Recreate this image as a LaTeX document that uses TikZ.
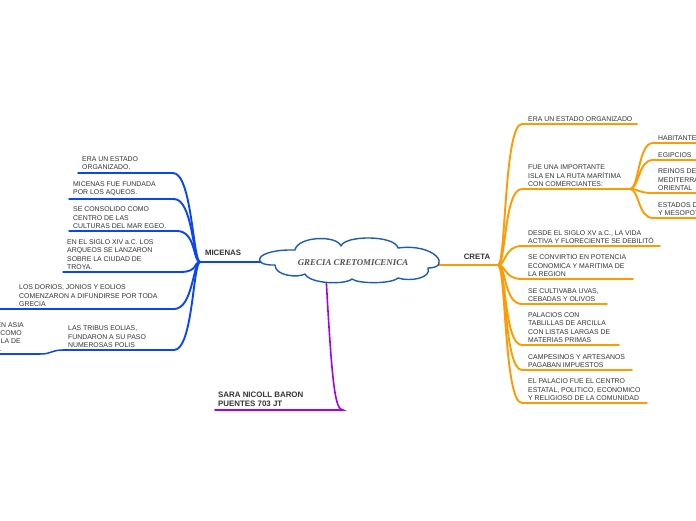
\documentclass[tikz,border=0pt]{standalone}
\usepackage{fontspec}
\setmainfont{Liberation Sans}
\newfontfamily\cloudfont{Liberation Serif}
\definecolor{mblue}{HTML}{0A46F5}
\definecolor{morange}{HTML}{FF9A00}
\definecolor{mpurple}{HTML}{A100F2}
\definecolor{cblue}{HTML}{1C5DAE}
\definecolor{txt}{HTML}{333333}
\tikzset{
  leaf/.style={anchor=south west,inner sep=0pt,align=left,text=txt,font=\fontsize{6.9}{8.2}\selectfont},
  leafe/.style={anchor=south east,inner sep=0pt,align=left,text=txt,font=\fontsize{6.9}{8.2}\selectfont},
  lbl/.style={inner sep=0pt,text=txt,font=\fontsize{7.8}{9}\selectfont\bfseries},
  bline/.style={draw=mblue,line width=1.5pt,line cap=round},
  bconn/.style={draw=mblue,line width=1.9pt,line cap=round},
  oline/.style={draw=morange,line width=1.5pt,line cap=round},
  oconn/.style={draw=morange,line width=1.9pt,line cap=round},
  cloudline/.style={draw=cblue,line width=1.4pt,fill=white,line join=round},
}
\begin{document}
\begin{tikzpicture}[x=1pt,y=-1pt]
\useasboundingbox (0,0) rectangle (696,520);
\clip (0,0) rectangle (696,520);
% ---------- MICENAS ----------
\coordinate (mh) at (200,262);
\coordinate (cl) at (266,262);
\draw[bconn] (cl) -- (mh);
\node[lbl] (mic) at (223,253) {MICENAS};

\coordinate (m1a) at (78,173);  \coordinate (m1b) at (173,173);
\coordinate (m2a) at (69,199);  \coordinate (m2b) at (174,199);
\coordinate (m3a) at (69,231);  \coordinate (m3b) at (177,231);
\coordinate (m4a) at (63,272);  \coordinate (m4b) at (180,272);
\coordinate (m5a) at (0,309);   \coordinate (m5b) at (174,309);
\coordinate (m6a) at (63,350);  \coordinate (m6b) at (174,350);
\coordinate (m7a) at (-5,354);  \coordinate (m7b) at (40,354);

\foreach \i in {1,...,6}{
  \draw[bline] (m\i a) -- (m\i b);
  \draw[bconn] (m\i b) .. controls +(19,0) and +(-7,0) .. (mh);
}
\draw[bline] (m7a) -- (m7b);
\draw[bline] (m7b) .. controls +(12,0) and +(-12,0) .. (m6a);

\node[leaf] (t1) at (82,170) {ERA UN ESTADO\\ORGANIZADO.};
\node[leaf] (t2) at (73,196) {MICENAS FUE FUNDADA\\POR LOS AQUEOS.};
\node[leaf] (t3) at (73,228.5) {SE CONSOLIDO COMO\\CENTRO DE LAS\\CULTURAS DEL MAR EGEO.};
\node[leaf] (t4) at (67,269.5) {EN EL SIGLO XIV a.C. LOS\\ARQUEOS SE LANZARON\\SOBRE LA CIUDAD DE\\TROYA.};
\node[leaf] (t5) at (19,306.5) {LOS DORIOS, JONIOS Y EOLIOS\\COMENZARON A DIFUNDIRSE POR TODA\\GRECIA};
\node[leaf] (t6) at (68,347.5) {LAS TRIBUS EOLIAS,\\FUNDARON A SU PASO\\NUMEROSAS POLIS};
\node[leafe] (t7a) at (24,328) {EN ASIA};
\node[leafe] (t7b) at (22,336) {COMO};
\node[leafe] (t7c) at (21,344) {LA DE};
\node[leafe] (t7d) at (2,352) {.};
% ---------- CRETA ----------
\coordinate (ch) at (498,265);
\coordinate (cr) at (430,265);
\draw[oconn] (cr) -- (ch);
\node[lbl] (cre) at (477,257) {CRETA};

\coordinate (r1a) at (522,124); \coordinate (r1b) at (637,124);
\coordinate (r2a) at (522,189); \coordinate (r2b) at (630,189);
\coordinate (r3a) at (522,246); \coordinate (r3b) at (660,246);
\coordinate (r4a) at (522,279); \coordinate (r4b) at (633,279);
\coordinate (r5a) at (522,304); \coordinate (r5b) at (607,304);
\coordinate (r6a) at (522,345); \coordinate (r6b) at (619,345);
\coordinate (r7a) at (522,370); \coordinate (r7b) at (632,370);
\coordinate (r8a) at (522,403); \coordinate (r8b) at (647,403);
\foreach \i in {1,...,8}{
  \draw[oline] (r\i a) -- (r\i b);
  \draw[oconn] (ch) .. controls +(8,0) and +(-18,0) .. (r\i a);
}
\node[leaf] (u1) at (528,121.5) {ERA UN ESTADO ORGANIZADO};
\node[leaf] (u2) at (528,186.5) {FUE UNA IMPORTANTE\\ISLA EN LA RUTA MARÍTIMA\\CON COMERCIANTES:};
\node[leaf] (u3) at (528,243.5) {DESDE EL SIGLO XV a.C., LA VIDA\\ACTIVA Y FLORECIENTE SE DEBILITÓ};
\node[leaf] (u4) at (528,276.5) {SE CONVIRTIO EN POTENCIA\\ECONOMICA Y MARITIMA DE\\LA REGION};
\node[leaf] (u5) at (528,301.5) {SE CULTIVABA UVAS,\\CEBADAS Y OLIVOS};
\node[leaf] (u6) at (528,342.5) {PALACIOS CON\\TABLILLAS DE ARCILLA\\CON LISTAS LARGAS DE\\MATERIAS PRIMAS};
\node[leaf] (u7) at (528,367.5) {CAMPESINOS Y ARTESANOS\\PAGABAN IMPUESTOS};
\node[leaf] (u8) at (528,400.5) {EL PALACIO FUE EL CENTRO\\ESTATAL, POLITICO, ECONOMICO\\Y RELIGIOSO DE LA COMUNIDAD};
% sub-branches
\coordinate (s1a) at (653,143); \coordinate (s1b) at (700,143);
\coordinate (s2a) at (653,160); \coordinate (s2b) at (700,160);
\coordinate (s3a) at (653,193); \coordinate (s3b) at (700,193);
\coordinate (s4a) at (653,218); \coordinate (s4b) at (700,218);
\foreach \i in {1,...,4}{
  \draw[oline] (s\i a) -- (s\i b);
  \draw[oconn] (r2b) .. controls +(9,0) and +(-15,0) .. (s\i a);
}
\node[leaf] (v1) at (658,140.5) {HABITANTES};
\node[leaf] (v2) at (658,157.5) {EGIPCIOS};
\node[leaf] (v3) at (658,190.5) {REINOS DEL\\MEDITERRÁNEO\\ORIENTAL};
\node[leaf] (v4) at (658,215.5) {ESTADOS DE\\Y MESOPOTAMIA};
% ---------- author ----------
\coordinate (pa) at (326,276);
\coordinate (pb) at (343,410);
\coordinate (pc) at (215,410);
\draw[draw=mpurple,line width=1.6pt,line cap=round] (pa) .. controls (332,385) and (335,410) .. (pb) -- (pc);
\node[leaf,font=\fontsize{7.9}{9}\selectfont\bfseries] (au) at (218,407) {SARA NICOLL BARON\\PUENTES 703 JT};
% ---------- centre cloud ----------
\draw[cloudline] (275,265)
  .. controls (250,266) and (254,249) .. (295,250)
  .. controls (298,236) and (337,235) .. (341,246)
  .. controls (345,235) and (395,235) .. (398,248)
  .. controls (436,243) and (452,268) .. (428,268)
  .. controls (432,278) and (410,282) .. (398,278)
  .. controls (392,284) and (358,284) .. (352,279)
  .. controls (345,285) and (310,284) .. (305,274)
  .. controls (298,278) and (275,276) .. (275,265) -- cycle;
\node[inner sep=0pt,text=txt!85,font=\cloudfont\fontsize{8.9}{10}\selectfont\bfseries\itshape] (ct) at (353,263) {GRECIA CRETOMICENICA};
\end{tikzpicture}
\end{document}
